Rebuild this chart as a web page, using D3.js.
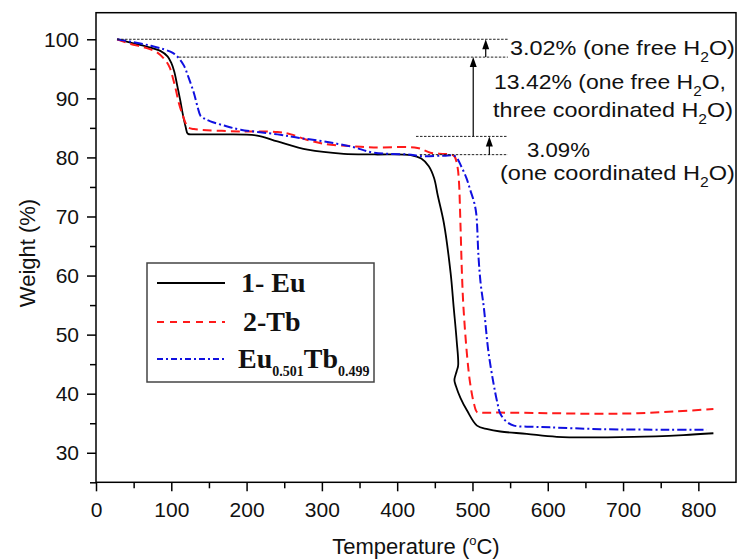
<!DOCTYPE html>
<html><head><meta charset="utf-8">
<script src="https://cdn.jsdelivr.net/npm/d3@7"></script>
<style>body{margin:0;background:#fff;} svg{display:block;}</style>
</head><body>
<svg id="chart" width="739" height="560"></svg>
<script>
// ---------- data ----------
const euT = [28,60,86,95,100,104,108,112,115,119,122,130,170,214,241,281,329,370,418,432,442,449,454,462,471,475,479,481,479,476,478,484,493,506,520,537,572,612,714,780,820];
const euW = [100,99.0,98.0,97.1,96.0,94.5,92.1,89.6,87.5,85.2,84.0,83.9,83.9,83.7,82.7,81.3,80.6,80.5,80.4,79.8,78.5,76.5,73.5,68.9,60.4,54.7,49.0,44.8,43.8,42.3,41.3,39.3,37.1,34.6,34.0,33.6,33.2,32.7,32.7,33.0,33.3];
const tbT = [28,46,65,82,93,98,102,106,110,115,119,122,130,192,241,259,280,303,340,369,427,444,460,471,476,480,482,484,486,488,493,497,502,506,512,537,600,670,720,770,820];
const tbW = [100,99.2,98.6,97.7,96.3,95.2,93.5,91.5,89.2,87.2,85.8,85.1,84.8,84.4,84.3,83.9,83.0,82.3,81.9,81.7,81.6,80.8,80.6,80.5,80.2,78.5,76.0,68.9,60.4,54.7,46.2,41.7,38.3,36.9,36.8,36.8,36.7,36.6,36.7,37.0,37.4];
const mixT = [28,50,73,90,102,110,117,123,130,135,139,145,152,170,192,241,270,303,340,369,413,435,462,477,485,492,497,502,505,508,511,515,521,528,533,537,545,555,580,603,670,760,811];
const mixW = [100,99.5,98.9,98.3,97.7,96.8,95.5,93.5,90.9,88.5,87.0,86.5,86.1,85.4,84.7,83.9,83.3,82.7,81.8,80.8,80.5,80.2,80.3,80.2,78.5,76.5,74.5,72.5,70.5,63.2,58.5,54.7,47.3,41.7,38.5,36.6,35.3,34.6,34.4,34.3,34.0,33.9,33.9];

const xTicks = [0,100,200,300,400,500,600,700,800];
const xMinor = [50,150,250,350,450,550,650,750];
const yTicks = [30,40,50,60,70,80,90,100];
const yMinor = [25,35,45,55,65,75,85,95];

// step annotation levels (weight %), and where each dotted guide starts (°C)
const stepLevels = [100, 96.98, 83.56, 80.47];
const stepStartT = [28, 110, 425, 430];
const stepEndT = 547;
const arrowT = [517.6, 501, 522.4];

const seriesLabels = ["1- Eu", "2-Tb", "Eu0.501Tb0.499"];

// ---------- setup ----------
const svg = d3.select("#chart");
const x = d3.scaleLinear().domain([0, 850]).range([96, 736]);
const y = d3.scaleLinear().domain([25, 104.5]).range([482.3, 12.7]);
const SANS = "'Liberation Sans', Arial, sans-serif";
const SERIF = "'Liberation Serif', 'Times New Roman', serif";

svg.append("rect").attr("width", 739).attr("height", 560).attr("fill", "#fff");

// axes
svg.append("g").attr("transform", `translate(0,${y.range()[0]})`)
  .call(d3.axisBottom(x).tickValues(xTicks).tickSize(9).tickPadding(11).tickFormat(d3.format("d")));
svg.append("g").attr("transform", `translate(0,${y.range()[0]})`)
  .call(d3.axisBottom(x).tickValues(xMinor).tickSize(6).tickFormat(""));
svg.append("g").attr("transform", `translate(${x.range()[0]},0)`)
  .call(d3.axisLeft(y).tickValues(yTicks).tickSize(9).tickPadding(8).tickFormat(d3.format("d")));
svg.append("g").attr("transform", `translate(${x.range()[0]},0)`)
  .call(d3.axisLeft(y).tickValues(yMinor).tickSize(6).tickFormat(""));
svg.selectAll(".domain").remove();
svg.selectAll(".tick line").attr("stroke", "#000").attr("stroke-width", 1.5);
svg.selectAll(".tick text").attr("font-family", SANS).attr("font-size", 21).attr("fill", "#111");
svg.selectAll(".tick text").filter(function () { return this.textContent === ""; }).remove();

// frame
svg.append("rect")
  .attr("x", x.range()[0]).attr("y", y.range()[1])
  .attr("width", x.range()[1] - x.range()[0]).attr("height", y.range()[0] - y.range()[1])
  .attr("fill", "none").attr("stroke", "#000").attr("stroke-width", 1.5);

// axis titles
const xt = svg.append("text").attr("x", (x.range()[0] + x.range()[1]) / 2).attr("y", 554)
  .attr("text-anchor", "middle").attr("font-family", SANS).attr("font-size", 22).attr("fill", "#111");
xt.append("tspan").text("Temperature (");
xt.append("tspan").text("o").attr("font-size", 13).attr("dy", -9);
xt.append("tspan").text("C)").attr("dy", 9);

svg.append("text").attr("transform", "translate(35,253) rotate(-90)")
  .attr("text-anchor", "middle").attr("font-family", SANS).attr("font-size", 22).attr("fill", "#111")
  .text("Weight (%)");

// ---------- curves ----------
const line = d3.line().x(d => x(d[0])).y(d => y(d[1])).curve(d3.curveCatmullRom.alpha(0.5));
const series = [
  { T: euT, W: euW, color: "#000000", dash: null, width: 1.8 },
  { T: tbT, W: tbW, color: "#ff1a1a", dash: "9,5", width: 2 },
  { T: mixT, W: mixW, color: "#1010e0", dash: "9,3,2,3", width: 2 }
];
series.forEach(s => {
  svg.append("path").datum(s.T.map((t, i) => [t, s.W[i]]))
    .attr("d", line).attr("fill", "none").attr("stroke", s.color)
    .attr("stroke-width", s.width).attr("stroke-dasharray", s.dash)
    .attr("stroke-linejoin", "round");
});

// ---------- annotations ----------
stepLevels.forEach((lv, i) => {
  svg.append("line").attr("x1", x(stepStartT[i])).attr("x2", x(stepEndT))
    .attr("y1", y(lv)).attr("y2", y(lv))
    .attr("stroke", "#222").attr("stroke-width", 1).attr("stroke-dasharray", "2.5,1.5");
});
arrowT.forEach((t, i) => {
  const xa = x(t), y0 = y(stepLevels[i + 1]), y1 = y(stepLevels[i]);
  svg.append("line").attr("x1", xa).attr("x2", xa).attr("y1", y0).attr("y2", y1 + 8)
    .attr("stroke", "#000").attr("stroke-width", 1.2);
  svg.append("path").attr("d", `M${xa},${y1} L${xa - 3.5},${y1 + 10} L${xa + 3.5},${y1 + 10} Z`).attr("fill", "#000");
});

// parts: plain strings, or {s: subscript}; text after a subscript returns to the baseline
function annot(parts, x0, yb, targetW) {
  const t = svg.append("text").attr("x", x0).attr("y", yb)
    .attr("font-family", SANS).attr("font-size", 21).attr("fill", "#111");
  let shifted = false;
  parts.forEach(p => {
    if (typeof p === "object") {
      t.append("tspan").text(p.s).attr("font-size", 14).attr("dy", 7);
      shifted = true;
    } else {
      const ts = t.append("tspan").text(p);
      if (shifted) { ts.attr("dy", -7); shifted = false; }
    }
  });
  const w = t.node().getBBox().width;
  const s = targetW / w;
  t.attr("transform", `translate(${x0},0) scale(${s},1) translate(${-x0},0)`);
}
annot(["3.02% (one free H", { s: "2" }, "O)"], 510, 55, 225);
annot(["13.42% (one free H", { s: "2" }, "O,"], 494, 89, 232);
annot(["three coordinated H", { s: "2" }, "O)"], 493, 117, 240);
annot(["3.09%"], 527, 157, 63);
annot(["(one coordinated H", { s: "2" }, "O)"], 500, 180, 235);

// ---------- legend ----------
const lg = svg.append("g");
lg.append("rect").attr("x", 147).attr("y", 263).attr("width", 227).attr("height", 119)
  .attr("fill", "#fff").attr("stroke", "#444").attr("stroke-width", 1.5);
const rowsY = [292, 331, 368];
const legendDash = [null, "7,6", "6,3,2,3"];
series.forEach((s, i) => {
  lg.append("line").attr("x1", 157).attr("x2", 225).attr("y1", rowsY[i] - 9).attr("y2", rowsY[i] - 9)
    .attr("stroke", s.color).attr("stroke-width", 2).attr("stroke-dasharray", legendDash[i]);
});
lg.append("text").attr("x", 241).attr("y", rowsY[0]).attr("font-family", SERIF).attr("font-weight", "bold")
  .attr("font-size", 28).attr("fill", "#111").text(seriesLabels[0]);
lg.append("text").attr("x", 243).attr("y", rowsY[1]).attr("font-family", SERIF).attr("font-weight", "bold")
  .attr("font-size", 28).attr("fill", "#111").text(seriesLabels[1]);
const l3 = lg.append("text").attr("x", 238).attr("y", rowsY[2]).attr("font-family", SERIF).attr("font-weight", "bold")
  .attr("font-size", 28).attr("fill", "#111");
l3.append("tspan").text("Eu");
l3.append("tspan").text("0.501").attr("font-size", 14).attr("dy", 8);
l3.append("tspan").text("Tb").attr("dy", -8);
l3.append("tspan").text("0.499").attr("font-size", 14).attr("dy", 8);
</script>
</body></html>
